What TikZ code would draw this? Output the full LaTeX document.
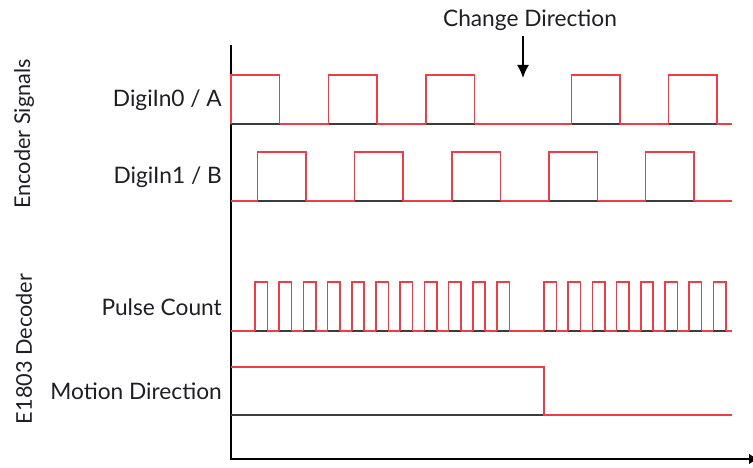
\documentclass[tikz,border=0pt]{standalone}
\usepackage{fontspec}
\setmainfont{Lato}
\usetikzlibrary{arrows.meta, positioning}
\definecolor{SignalRed}{RGB}{240,60,70}
\definecolor{BaseGray}{RGB}{60,60,60}
\definecolor{LabelInk}{RGB}{30,30,35}

\begin{document}
\begin{tikzpicture}[x=1pt, y=-1pt,
          axisline/.style={draw=black, line width=2.6pt},
          signal/.style={draw=SignalRed, line width=1.7pt},
          lowline/.style={draw=BaseGray, line width=1.7pt},
          siglabel/.style={anchor=east, inner sep=0pt, font=\fontsize{22.7}{26}\selectfont, text=LabelInk},
          grouplabel/.style={rotate=90, inner sep=0pt, font=\fontsize{21.7}{26}\selectfont, text=LabelInk}
        ]
          \useasboundingbox (0,0) rectangle (753,468);
          \coordinate (ytop) at (231,45);
          \coordinate (xend) at (758,459);
          \draw[axisline, -{Latex[length=9pt,width=11pt]}] (ytop) |- (xend);

          \node (change) [siglabel, anchor=center] at (530,20) {Change Direction};
          \coordinate (changetip) at (523,78);
          \draw[line width=1.6pt, -{Latex[length=13pt,width=12pt]}] ([yshift=-5pt]change.south -| changetip) -- (changetip);

          \node (grpenc) [grouplabel] at (24,134) {Encoder Signals};
          \node (grpdec) [grouplabel] at (24,349) {E1803 Decoder};
          \node (chanA) [siglabel] at (222,100) {DigiIn0 / A};
          \node (chanB) [siglabel] at (222,177) {DigiIn1 / B};
          \node (count) [siglabel] at (222,307) {Pulse Count};
          \node (motion) [siglabel] at (222,391) {Motion Direction};

          % encoder channels
          \draw[signal] (231,124) -- (731.5,124);
          \foreach \x in {231,328.5,426,571.5,668.5} {
            \draw[lowline] (\x,124) -- ++(48.5,0);
            \draw[signal] (\x,124) |- (\x+48.5,75) -- (\x+48.5,124);
          }
          \draw[signal] (231,201) -- (731.5,201);
          \foreach \x in {257.5,354.5,452,549,645.5} {
            \draw[lowline] (\x,201) -- ++(48.5,0);
            \draw[signal] (\x,201) |- (\x+48.5,152) -- (\x+48.5,201);
          }

          % decoder outputs
          \draw[signal] (231,331) -- (731.5,331);
          \foreach \k in {0,...,18} {
            \pgfmathsetmacro\x{\k<11 ? 255+24.2*\k : 544+24.2*(\k-11)}
            \draw[lowline] (\x,331) -- ++(12.4,0);
            \draw[signal] (\x,331) |- (\x+12.4,282) -- (\x+12.4,331);
          }
          \draw[lowline] (231,415) -- (544,415);
          \draw[signal] (231,367) -- (544,367) -- (544,415) -- (731.5,415);
        \end{tikzpicture}
\end{document}
